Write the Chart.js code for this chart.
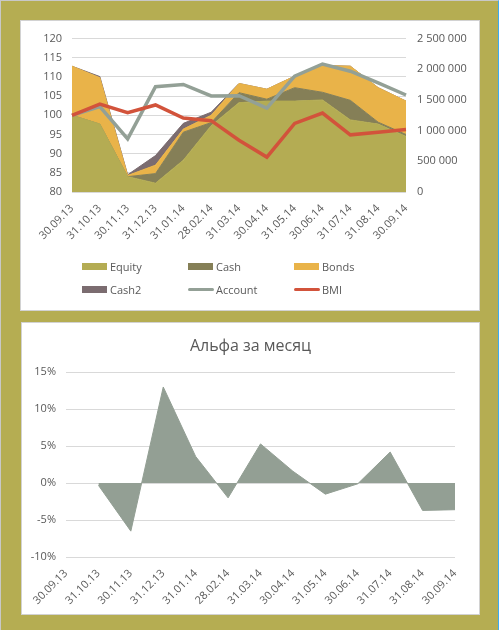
<!DOCTYPE html>
<html>
<head>
<meta charset="utf-8">
<script src="https://cdn.jsdelivr.net/npm/chart.js@4"></script>
<style>
  html, body { margin: 0; padding: 0; }
  body { width: 499px; height: 630px; background: #b5ad52; position: relative; overflow: hidden; font-family: "Open Sans", sans-serif; }
  .frame { position: absolute; left: 0; top: 0; width: 499px; height: 630px; box-sizing: border-box;
           border-left: 1px solid #c8c8c8; border-top: 1px solid #c8c8c8; border-right: 1px solid #3daaf0; }
  .panel { position: absolute; background: #fff; box-shadow: 0 0 0 1px #d2d2d2; }
  #top { left: 21px; top: 21px; width: 458px; height: 289px; }
  #bottom { left: 22px; top: 323px; width: 457px; height: 291px; }
  canvas { position: absolute; left: 0; top: 0; }
  #legend { position: absolute; left: 61px; top: 234px; display: grid; grid-template-columns: 106px 106px 106px; grid-auto-rows: 23px; }
  .item { display: flex; align-items: center; font-size: 11px; color: #595959; }
  .sw { width: 25px; height: 7px; margin-right: 3px; }
  .ln { width: 26px; height: 3px; border-radius: 2px; margin-right: 2px; }
</style>
</head>
<body>
<div class="frame"></div>
<div class="panel" id="top">
  <canvas id="mainChart" width="458" height="289"></canvas>
  <div id="legend"></div>
</div>
<div class="panel" id="bottom">
  <canvas id="alphaChart" width="457" height="291"></canvas>
</div>
<script>
const labels = ["30.09.13", "31.10.13", "30.11.13", "31.12.13", "31.01.14", "28.02.14", "31.03.14",
                "30.04.14", "31.05.14", "30.06.14", "31.07.14", "31.08.14", "30.09.14"];

// stacked areas (index units, left axis)
const equity = [100, 97.7, 84, 82.3, 88.3, 97.3, 103.3, 103.7, 103.7, 104, 98.8, 97.7, 94.5];
const cash   = [0, 0, 0, 2.5, 7.3, 0.8, 2.6, 0.5, 3.5, 2, 5.1, 0.5, 0.5];
const bonds  = [12.8, 12.1, 0.3, 2.2, 0.8, 1.9, 2.4, 2.6, 3.0, 7, 8.9, 9, 8.7];
const cash2  = [0, 0.3, 0.2, 2.5, 1.5, 0.8, 0, 0, 0, 0, 0, 0, 0];

// lines
const account = [1250000, 1392000, 866000, 1715000, 1753000, 1565000, 1570000,
                 1366000, 1887000, 2086000, 1968000, 1780000, 1581000];
const bmi = [100, 102.9, 100.7, 102.7, 99.3, 98.6, 93.5, 89.1, 97.9, 100.6, 94.9, 95.6, 96.3];

// monthly alpha, %
const alpha = [null, -0.3, -6.5, 13.0, 3.6, -2.0, 5.3, 1.6, -1.5, -0.1, 4.2, -3.7, -3.6];

const FONT = "'Open Sans', sans-serif";
const TXT = "#595959";
const GRID = "#d9d9d9";

let spaced = (v) => {
  return v.toString().replace(/\B(?=(\d{3})+(?!\d))/g, " ");
};

let area = (label, data, color, fill) => {
  return {
    label: label,
    data: data,
    backgroundColor: color,
    borderColor: color,
    borderWidth: 1,
    fill: fill,
    pointRadius: 0,
    tension: 0,
    order: 2,
    yAxisID: "y",
  };
};

renderMainChart();
renderAlphaChart();

function renderMainChart() {
  let ctx = document.querySelector("#mainChart");
  let datasets = [
    area("Equity", equity, "#b4ac53", "start"),
    area("Cash", cash, "#857f57", "-1"),
    area("Bonds", bonds, "#e9b349", "-1"),
    area("Cash2", cash2, "#7b6c70", "-1"),
    {
      label: "Account",
      data: account,
      borderColor: "#93a096",
      backgroundColor: "#93a096",
      borderWidth: 3.5,
      pointRadius: 0,
      fill: false,
      order: 1,
      yAxisID: "y1",
    },
    {
      label: "BMI",
      data: bmi,
      borderColor: "#d2533b",
      backgroundColor: "#d2533b",
      borderWidth: 3.5,
      pointRadius: 0,
      fill: false,
      order: 0,
      stack: "bmi",
      yAxisID: "y",
    },
  ];

  new Chart(ctx, {
    type: "line",
    data: { labels: labels, datasets: datasets },
    options: {
      responsive: false,
      animation: false,
      layout: { padding: { top: 16, left: 0, right: 0, bottom: 0 } },
      plugins: { legend: { display: false }, tooltip: { enabled: false } },
      scales: {
        x: {
          grid: { display: false },
          border: { display: false },
          ticks: { color: TXT, font: { family: FONT, size: 11 }, minRotation: 45, maxRotation: 45, autoSkip: false, padding: 2 },
          afterFit: (s) => { s.height = 118; },
        },
        y: {
          position: "left",
          stacked: true,
          min: 80,
          max: 120,
          grid: { color: GRID, drawTicks: false },
          border: { display: false },
          ticks: { stepSize: 5, color: TXT, font: { family: FONT, size: 11 }, padding: 10 },
          afterFit: (s) => { s.width = 51; },
        },
        y1: {
          position: "right",
          min: 0,
          max: 2500000,
          grid: { display: false, drawTicks: false },
          border: { display: false },
          ticks: { stepSize: 500000, color: TXT, font: { family: FONT, size: 11 }, padding: 11, callback: (v) => spaced(v) },
          afterFit: (s) => { s.width = 73; },
        },
      },
    },
  });

  // legend laid out in three columns like the original
  let legend = document.querySelector("#legend");
  datasets.forEach((d) => {
    let item = document.createElement("div");
    item.className = "item";
    let key = document.createElement("span");
    key.className = d.fill === false ? "ln" : "sw";
    key.style.background = d.borderColor;
    item.appendChild(key);
    item.appendChild(document.createTextNode(d.label));
    legend.appendChild(item);
  });
}

function renderAlphaChart() {
  let ctx = document.querySelector("#alphaChart");
  new Chart(ctx, {
    type: "line",
    data: {
      labels: labels,
      datasets: [
        {
          label: "Альфа",
          data: alpha,
          backgroundColor: "#939f94",
          borderColor: "#939f94",
          borderWidth: 1,
          pointRadius: 0,
          fill: "origin",
          tension: 0,
        },
      ],
    },
    options: {
      responsive: false,
      animation: false,
      layout: { padding: 0 },
      plugins: {
        legend: { display: false },
        tooltip: { enabled: false },
        title: {
          display: true,
          text: "Альфа за месяц",
          color: TXT,
          font: { family: FONT, size: 16, weight: "normal" },
          padding: { top: 14, bottom: 16 },
        },
      },
      scales: {
        x: {
          grid: { display: false },
          border: { display: false },
          ticks: { color: TXT, font: { family: FONT, size: 11 }, minRotation: 45, maxRotation: 45, autoSkip: false, padding: 2 },
          afterFit: (s) => { s.height = 57; },
        },
        y: {
          min: -10,
          max: 15,
          grid: { color: GRID, drawTicks: false },
          border: { display: false },
          ticks: { stepSize: 5, color: TXT, font: { family: FONT, size: 11 }, padding: 10, callback: (v) => v + "%" },
          afterFit: (s) => { s.width = 44; },
        },
        // empty right-hand axis only reserves the white margin, so the title stays centred on the panel
        gap: {
          position: "right",
          grid: { display: false },
          border: { display: false },
          ticks: { display: false },
          afterFit: (s) => { s.width = 24; },
        },
      },
    },
  });
}
</script>
</body>
</html>
